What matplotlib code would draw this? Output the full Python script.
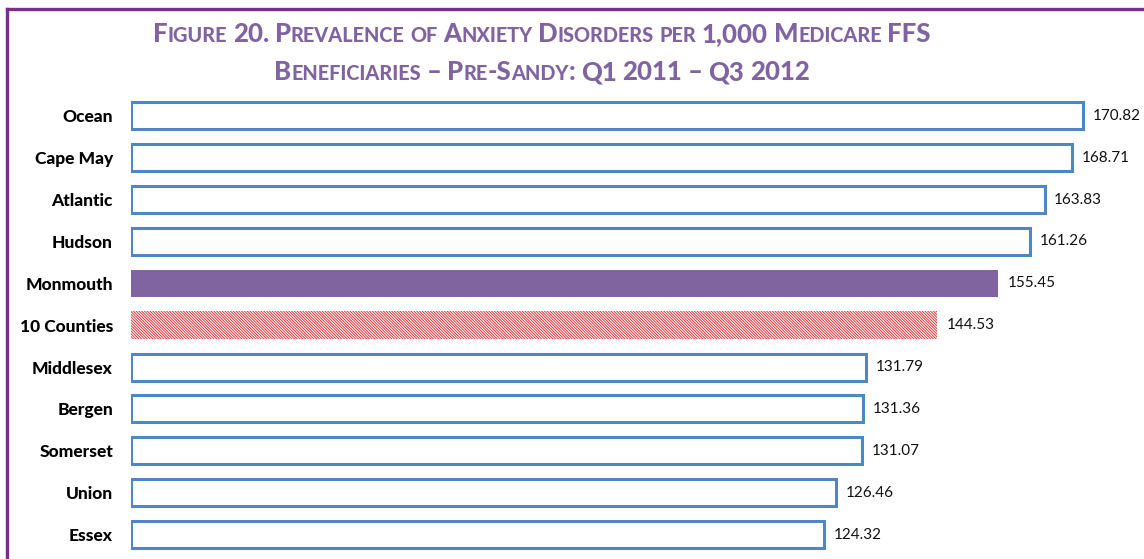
import matplotlib.pyplot as plt
from matplotlib.lines import Line2D

# data
counties = ['Ocean', 'Cape May', 'Atlantic', 'Hudson', 'Monmouth', '10 Counties',
            'Middlesex', 'Bergen', 'Somerset', 'Union', 'Essex']
values = [170.82, 168.71, 163.83, 161.26, 155.45, 144.53,
          131.79, 131.36, 131.07, 126.46, 124.32]
title_lines = ['Figure 20. Prevalence of Anxiety Disorders per 1,000 Medicare FFS',
               'Beneficiaries \u2013 Pre-Sandy: Q1 2011 \u2013 Q3 2012']

W, H = 1144, 559
BLUE = '#4F86C6'
PURPLE = '#8064A2'
FRAME = '#7B2C93'
FONT = 'Lato'

plt.rcParams['hatch.linewidth'] = 0.6

fig = plt.figure(figsize=(W / 100, H / 100), dpi=100)
fig.patch.set_facecolor('white')

# purple frame (left and top edges visible)
fig.add_artist(Line2D([7 / W, 7 / W], [-0.01, 1 - 8.5 / H], transform=fig.transFigure,
                      color=FRAME, lw=2.4, solid_capstyle='projecting'))
fig.add_artist(Line2D([7 / W, 1.01], [1 - 8.5 / H, 1 - 8.5 / H], transform=fig.transFigure,
                      color=FRAME, lw=2.4, solid_capstyle='projecting'))

ax = fig.add_axes([131 / W, 0, (W - 131) / W, 479 / H])
ax.set_xlim(0, (W - 131) / 5.576)
ax.set_ylim(10.585, -0.858)

for i, (name, v) in enumerate(zip(counties, values)):
    if name == 'Monmouth':
        ax.barh(i, v, height=0.66, color=PURPLE, linewidth=0)
    elif name == '10 Counties':
        ax.barh(i, v, height=0.66, facecolor='#FFF4F4', edgecolor='#E2262E',
                hatch='\\' * 12, linewidth=0)
    else:
        ax.barh(i, v, height=0.645, facecolor='white', edgecolor=BLUE, linewidth=2.2)
    ax.annotate(f'{v:.2f}', xy=(v, i), xytext=(7, 0), textcoords='offset points',
                va='center', ha='left', fontsize=11, family=FONT, color='#111111')

ax.set_yticks(range(len(counties)))
ax.set_yticklabels(counties, fontsize=12.5, fontweight='black', family=FONT)
ax.tick_params(axis='y', length=0, pad=13)
ax.set_xticks([])
for s in ax.spines.values():
    s.set_visible(False)


def runs(word):
    out = []
    for c in word:
        small = c.islower()
        ch = c.upper()
        if out and out[-1][1] == small:
            out[-1][0] += ch
        else:
            out.append([ch, small])
    return out


# small caps title, built from pieces and centred
renderer = fig.canvas.get_renderer()
big, small = 18.5, 14.3
for line, base in zip(title_lines, [42.5, 80]):
    x = 0
    texts = []
    for wi, word in enumerate(line.split(' ')):
        if wi > 0:
            x += big * 100 / 72 * 0.22
        for chunk, is_small in runs(word):
            t = fig.text(x / W, 1 - base / H, chunk, fontsize=small if is_small else big,
                         fontweight='black', family=FONT, color=PURPLE, va='baseline')
            texts.append((t, x))
            x += t.get_window_extent(renderer).width
    shift = 542 - x / 2
    for t, x0 in texts:
        t.set_x((x0 + shift) / W)

fig.savefig('out.png', dpi=100)
